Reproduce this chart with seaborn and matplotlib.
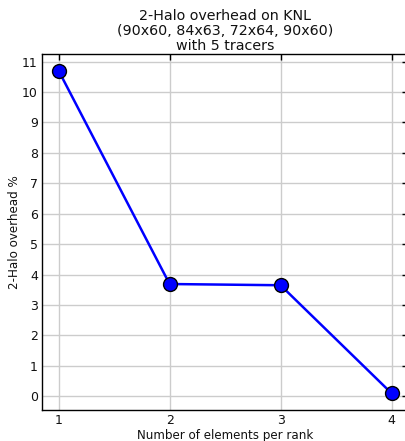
import matplotlib
matplotlib.use("Agg")
import matplotlib.pyplot as plt
import seaborn as sns
import pandas as pd

elements = [1, 2, 3, 4]
overhead = [10.7, 3.69, 3.65, 0.1]
title = "2-Halo overhead on KNL\n(90x60, 84x63, 72x64, 90x60)\nwith 5 tracers"

sns.set_style("whitegrid")
plt.rcParams['font.family'] = ['DejaVu Sans']

df = pd.DataFrame({"x": elements, "y": overhead})
fig = plt.figure(figsize=(4.06, 4.41), dpi=100)
ax = fig.add_axes([0.1034, 0.0703, 0.902, 0.8073])
sns.lineplot(data=df, x="x", y="y", ax=ax, color="blue", linewidth=1.8,
             marker="o", markersize=10, markerfacecolor="blue",
             markeredgecolor="black", markeredgewidth=1.0)
ax.set_xlim(0.85, 4.15)
ax.set_ylim(-0.45, 11.25)
ax.set_xticks(elements)
ax.set_yticks(range(0, 12))
ax.grid(True, color="#cccccc", linewidth=1.0)
for s in ax.spines.values():
    s.set_visible(True)
    s.set_color("black")
    s.set_linewidth(1.0)
ax.tick_params(direction="in", length=4, width=1, colors="black",
               top=True, right=True, labelsize=9, pad=3)
ax.tick_params(labelcolor="#111111")
ax.set_xlabel("Number of elements per rank", fontsize=8.6, labelpad=1, color="#111111")
ax.set_ylabel("2-Halo overhead %", fontsize=8.6, labelpad=1, color="#111111")
ax.set_title(title, fontsize=10.3, pad=3, linespacing=1.1, color="#111111")
fig.savefig("out.png", dpi=100)
